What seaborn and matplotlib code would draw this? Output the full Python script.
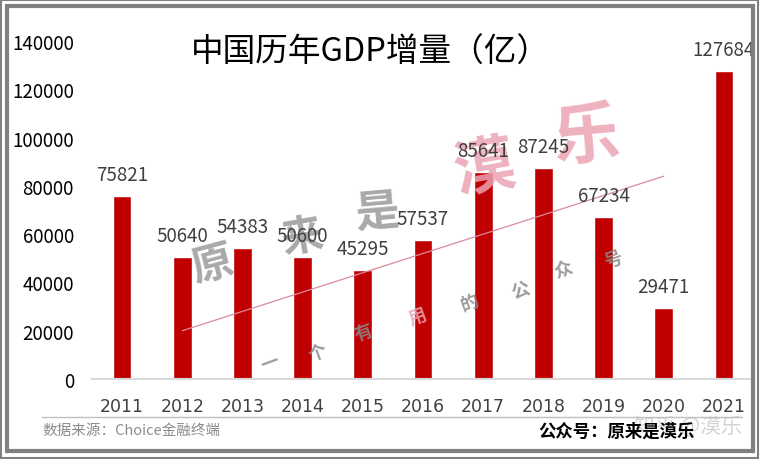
import matplotlib
matplotlib.use("Agg")
import matplotlib.pyplot as plt
import seaborn as sns
import pandas as pd
from matplotlib.patches import Rectangle

# ---- data ----
years = ["2011", "2012", "2013", "2014", "2015", "2016", "2017", "2018", "2019", "2020", "2021"]
gdp_increase = [75821, 50640, 54383, 50600, 45295, 57537, 85641, 87245, 67234, 29471, 127684]
y_ticks = [0, 20000, 40000, 60000, 80000, 100000, 120000, 140000]
trend_years = ["2012", "2020"]
trend_values = [20000, 84000]

title = "中国历年GDP增量（亿）"
source_text = "数据来源：Choice金融终端"
account_text = "公众号：原来是漠乐"
zhihu_text = "知乎 @漠乐"

sns.set_theme(style="white")
plt.rcParams["font.family"] = ["Noto Sans CJK SC", "DejaVu Sans"]

W, H = 760, 460
fig = plt.figure(figsize=(7.6, 4.6), dpi=100)
fig.patch.set_facecolor("white")


def fx(x):
    return x / W


def fy(y):
    return 1 - y / H


ax = fig.add_axes([fx(92), fy(380), fx(754) - fx(92), fy(42) - fy(380)])
df = pd.DataFrame({"year": years, "value": gdp_increase})
sns.barplot(data=df, x="year", y="value", color="#C00000", saturation=1,
            width=0.31, ax=ax)
ax.set_xlim(-0.5, len(years) - 0.5)
ax.set_ylim(0, 140000)
ax.set_yticks(y_ticks)
ax.set_yticklabels([str(v) for v in y_ticks], fontsize=13.5, color="black")
ax.tick_params(axis="y", length=0, pad=13)
ax.tick_params(axis="x", length=0, pad=13, labelsize=12.5, labelcolor="#404040")
for lab in ax.get_xticklabels():
    lab.set_family("DejaVu Sans")
ax.set_xlabel("")
ax.set_ylabel("")
for s in ["top", "right", "left"]:
    ax.spines[s].set_visible(False)
ax.spines["bottom"].set_color("#d9d9d9")
ax.spines["bottom"].set_linewidth(1.5)
ax.patch.set_alpha(0)

for c in ax.containers:
    texts = ax.bar_label(c, labels=[str(v) for v in gdp_increase], padding=8,
                         fontsize=13.5, color="#404040")
    for t in texts:
        t.set_zorder(6)

# decorative trend line
tx = [years.index(t) for t in trend_years]
ax.plot(tx, trend_values, color="#D98A9E", lw=0.9, zorder=3)

# title
fig.text(fx(370), fy(53), title, ha="center", va="center", fontsize=23.5, color="black")

# watermarks (drawn over the bars, under the value labels)
big = [("原", 212, 265, "#9a9a9a", 15, 30), ("来", 302, 238, "#9a9a9a", 10, 30),
       ("是", 378, 212, "#9a9a9a", 5, 32), ("漠", 484, 168, "#EBA3B3", 10, 44),
       ("乐", 586, 138, "#EBA3B3", 5, 48)]
for ch, x, y, col, rot, fs in big:
    ax.text(fx(x), fy(y), ch, ha="center", va="center", fontsize=fs,
            color=col, alpha=0.85, rotation=rot, fontweight="bold", zorder=4,
            transform=fig.transFigure)
small = [("一", 270, 363, "#8a8a8a"), ("个", 317, 353, "#8a8a8a"),
         ("有", 363, 333, "#8a8a8a"), ("用", 417, 317, "#EBA3B3"),
         ("的", 470, 303, "#8a8a8a"), ("公", 520, 290, "#8a8a8a"),
         ("众", 563, 270, "#8a8a8a"), ("号", 613, 260, "#8a8a8a")]
for ch, x, y, col in small:
    ax.text(fx(x), fy(y), ch, ha="center", va="center", fontsize=13,
            color=col, alpha=0.85, rotation=20, fontweight="bold", zorder=4,
            transform=fig.transFigure)

# separator line and footers
fig.add_artist(plt.Line2D([fx(42), fx(742)], [fy(418), fy(418)], color="#bfbfbf", lw=1))
fig.text(fx(42), fy(431), source_text, ha="left", va="center", fontsize=10.5, color="#8c8c8c")
fig.text(fx(742), fy(426), zhihu_text, ha="right", va="center", fontsize=15,
         color="#d4d4d4", zorder=0)
fig.text(fx(538), fy(432), account_text, ha="left", va="center", fontsize=12.5,
         color="black", fontweight="bold", zorder=2)

# frame
fig.add_artist(Rectangle((fx(1), fy(459)), fx(758) - fx(1), fy(1) - fy(459),
                         fill=False, ec="#808080", lw=1.5, transform=fig.transFigure))
fig.add_artist(Rectangle((fx(6.5), fy(452)), fx(753) - fx(6.5), fy(6.5) - fy(452),
                         fill=False, ec="#808080", lw=3, transform=fig.transFigure))

fig.savefig("out.png", dpi=100, facecolor="white")
